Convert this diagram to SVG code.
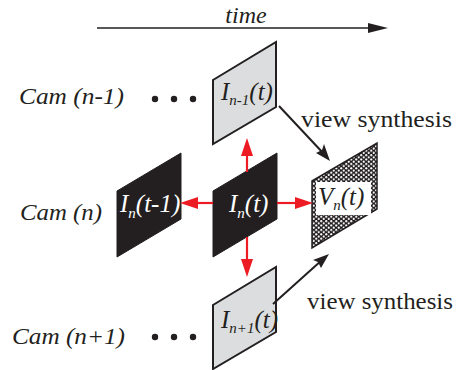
<svg xmlns="http://www.w3.org/2000/svg" width="457" height="370" viewBox="0 0 457 370">
<style>
.lbl{font-family:"Liberation Serif","Times New Roman",serif;font-style:italic;font-size:24px;fill:#231f20}
.vs{font-family:"Liberation Serif","Times New Roman",serif;font-size:24px;fill:#231f20}
.img{font-family:"Liberation Serif","Times New Roman",serif;font-style:italic;font-size:25px}
.sub{font-size:15px}
.grey{fill:#dcdddf;stroke:#231f20;stroke-width:2}
.black{fill:#231f20;stroke:#231f20;stroke-width:1}
.red{stroke:#ed1c24;stroke-width:2.2;fill:none}
.blk{stroke:#231f20;stroke-width:2;fill:none}
.dot{fill:#231f20}
</style>
<defs>
<pattern id="mesh" patternUnits="userSpaceOnUse" width="5" height="4.4">
<rect width="5" height="4.4" fill="#231f20"/>
<circle cx="1.25" cy="1.1" r="1.1" fill="#fff"/>
<circle cx="3.75" cy="3.3" r="1.1" fill="#fff"/>
</pattern>
</defs>
<g id="time-axis">
<text class="lbl" x="246" y="23" text-anchor="middle" font-size="22">time</text>
<line x1="97" y1="28" x2="372" y2="28" stroke="#231f20" stroke-width="1.3"/>
<path d="M368,23 L388,28 L368,33 z" fill="#231f20"/>
</g>
<g id="labels">
<text class="lbl" x="19" y="104" textLength="105" lengthAdjust="spacingAndGlyphs">Cam (n-1)</text>
<text class="lbl" x="20" y="220" textLength="82" lengthAdjust="spacingAndGlyphs">Cam (n)</text>
<text class="lbl" x="12" y="344" textLength="113" lengthAdjust="spacingAndGlyphs">Cam (n+1)</text>
<circle class="dot" cx="155" cy="99" r="3.2"/><circle class="dot" cx="174" cy="99" r="3.2"/><circle class="dot" cx="193" cy="99" r="3.2"/>
<circle class="dot" cx="155" cy="337" r="3.2"/><circle class="dot" cx="174" cy="337" r="3.2"/><circle class="dot" cx="193" cy="337" r="3.2"/>
<text class="vs" x="301" y="127" textLength="151" lengthAdjust="spacingAndGlyphs">view synthesis</text>
<text class="vs" x="307" y="309" textLength="146" lengthAdjust="spacingAndGlyphs">view synthesis</text>
</g>
<g id="node-In-1">
<path class="grey" d="M213,80 L276,42 L276,107 L213,144 z"/>
<text class="img" x="221" y="100" fill="#231f20">I<tspan class="sub" dy="5">n-1</tspan><tspan dy="-5">(t)</tspan></text>
</g>
<g id="node-In-t-1">
<path class="black" d="M117,191 L181,153 L181,219 L117,257 z"/>
<text class="img" x="120" y="212" fill="#fff">I<tspan class="sub" dy="6">n</tspan><tspan dy="-6">(t-1)</tspan></text>
</g>
<g id="node-In">
<path class="black" d="M213,191 L277,153 L277,219 L213,257 z"/>
<text class="img" x="229" y="212" fill="#fff">I<tspan class="sub" dy="6">n</tspan><tspan dy="-6">(t)</tspan></text>
</g>
<g id="node-Vn">
<path d="M312,181 L377,143 L377,209 L312,248 z" fill="url(#mesh)" stroke="#231f20" stroke-width="1.5"/>
<rect x="316" y="182" width="55" height="33" fill="#fff"/>
<text class="img" x="318" y="205" fill="#231f20">V<tspan class="sub" dy="5">n</tspan><tspan dy="-5">(t)</tspan></text>
</g>
<g id="node-In+1">
<path class="grey" d="M213,305 L276,267 L276,332 L213,369 z"/>
<text class="img" x="221" y="328" fill="#231f20">I<tspan class="sub" dy="5">n+1</tspan><tspan dy="-5">(t)</tspan></text>
</g>
<g id="connectors">
<line class="red" x1="247" y1="172" x2="247" y2="152"/>
<path d="M241,156 L247,138 L253,156 z" fill="#ed1c24"/>
<line class="red" x1="247" y1="237" x2="247" y2="262"/>
<path d="M241,259 L247,277 L253,259 z" fill="#ed1c24"/>
<line class="red" x1="213" y1="203" x2="195" y2="203"/>
<path d="M198,197 L180,203 L198,209 z" fill="#ed1c24"/>
<line class="red" x1="277" y1="203" x2="297" y2="203"/>
<path d="M295,197 L313,203 L295,209 z" fill="#ed1c24"/>
<line class="blk" x1="279" y1="106" x2="324" y2="154"/>
<path d="M330,161 L316,153 L322,150 L324,144 z" fill="#231f20"/>
<line class="blk" x1="273" y1="304" x2="322" y2="260"/>
<path d="M329,254 L321,268 L318,262 L313,260 z" fill="#231f20"/>
</g>
</svg>
